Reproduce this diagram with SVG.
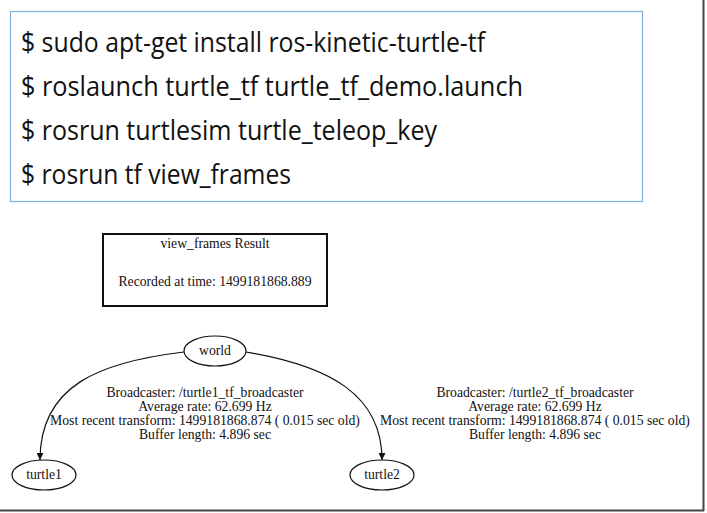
<svg xmlns="http://www.w3.org/2000/svg" width="707" height="513" viewBox="0 0 707 513">
<style>
.cmd{font-family:"Open Sans","Noto Sans",sans-serif;font-size:28px;fill:#111}
.g{font-family:"Liberation Serif","Times New Roman",serif;font-size:13.7px;fill:#111;text-anchor:middle}
.node{fill:#fff;stroke:#111;stroke-width:1.2}
.edge{fill:none;stroke:#111;stroke-width:1.2}
</style>
<defs>
<marker id="arr" viewBox="0 0 10 10" refX="10" refY="5" markerWidth="7" markerHeight="7" orient="auto" markerUnits="userSpaceOnUse">
<path d="M0,0 L10,5 L0,10 z" fill="#111"/>
</marker>
</defs>
<rect x="0" y="0" width="707" height="513" fill="#fff"/>
<g id="frame">
<line x1="703.5" y1="0" x2="703.5" y2="511" stroke="#444" stroke-width="2"/>
<line x1="0" y1="510.5" x2="704" y2="510.5" stroke="#444" stroke-width="2"/>
</g>
<g id="commands">
<rect x="10.5" y="11.5" width="632" height="190" fill="#fff" stroke="#7fb0e0" stroke-width="1.2"/>
<text class="cmd" x="21" y="52" textLength="464" lengthAdjust="spacingAndGlyphs">$ sudo apt-get install ros-kinetic-turtle-tf</text>
<text class="cmd" x="21" y="96" textLength="502" lengthAdjust="spacingAndGlyphs">$ roslaunch turtle_tf turtle_tf_demo.launch</text>
<text class="cmd" x="21" y="140" textLength="416" lengthAdjust="spacingAndGlyphs">$ rosrun turtlesim turtle_teleop_key</text>
<text class="cmd" x="21" y="184" textLength="270" lengthAdjust="spacingAndGlyphs">$ rosrun tf view_frames</text>
</g>
<g id="result">
<rect x="103" y="234" width="224" height="72" fill="#fff" stroke="#111" stroke-width="2"/>
<text class="g" x="215" y="248">view_frames Result</text>
<text class="g" x="215" y="286">Recorded at time: 1499181868.889</text>
</g>
<g id="connectors">
<path class="edge" d="M184,352 C100,362 40,385 40,460" marker-end="url(#arr)"/>
<path class="edge" d="M246,352 C330,366 382,395 382,460" marker-end="url(#arr)"/>
<g id="label1">
<text class="g" x="205" y="397">Broadcaster: /turtle1_tf_broadcaster</text>
<text class="g" x="205" y="411">Average rate: 62.699 Hz</text>
<text class="g" x="205" y="425">Most recent transform: 1499181868.874 ( 0.015 sec old)</text>
<text class="g" x="205" y="439">Buffer length: 4.896 sec</text>
</g>
<g id="label2">
<text class="g" x="535" y="397">Broadcaster: /turtle2_tf_broadcaster</text>
<text class="g" x="535" y="411">Average rate: 62.699 Hz</text>
<text class="g" x="535" y="425">Most recent transform: 1499181868.874 ( 0.015 sec old)</text>
<text class="g" x="535" y="439">Buffer length: 4.896 sec</text>
</g>
</g>
<g id="world">
<ellipse class="node" cx="215" cy="351" rx="31" ry="15"/>
<text class="g" x="215" y="355">world</text>
</g>
<g id="turtle1">
<ellipse class="node" cx="44" cy="475" rx="32" ry="15"/>
<text class="g" x="44" y="479">turtle1</text>
</g>
<g id="turtle2">
<ellipse class="node" cx="382" cy="475" rx="32" ry="15"/>
<text class="g" x="382" y="479">turtle2</text>
</g>
</svg>
